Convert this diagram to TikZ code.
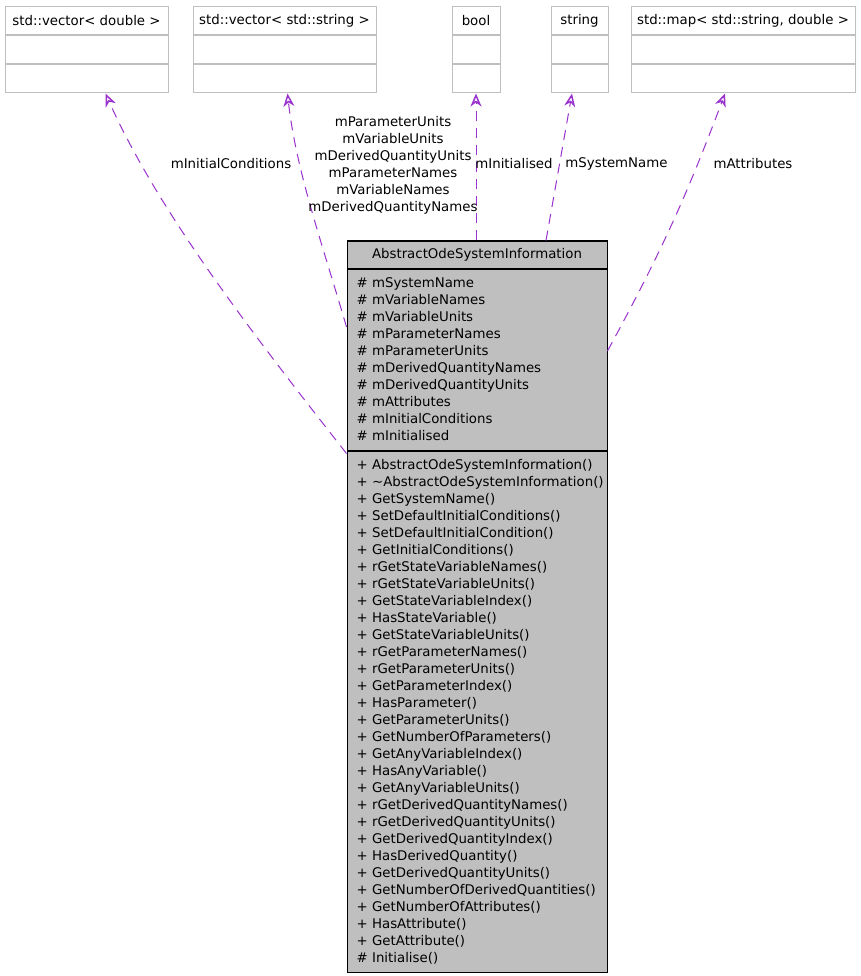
\documentclass[tikz,border=0pt]{standalone}
\usepackage{fontspec}
\setmainfont{DejaVu Sans}
\usetikzlibrary{positioning,arrows.meta}
\definecolor{edgepurple}{HTML}{9A32CD}
\definecolor{boxgray}{HTML}{BFBFBF}
\begin{document}
\begin{tikzpicture}[x=1pt, y=-1pt,
	font=\fontsize{13.33}{17}\selectfont,
	cls/.style={draw=boxgray, line width=1pt, inner sep=0pt, minimum height=28pt},
	mainpart/.style={draw=black, fill=boxgray, line width=1pt, inner sep=0pt, minimum width=260pt},
	members/.style={align=left, inner sep=0pt, anchor=west},
	uses/.style={-{Stealth[open,length=13pt,width=11pt,inset=4pt,line width=1.5pt]}, draw=edgepurple, line width=1pt, dash pattern=on 10pt off 7pt},
	lbl/.style={inner sep=0pt, align=center}]
			\useasboundingbox (0,0) rectangle (860,976);
			\node[cls, minimum width=163pt] (vecdbl) at (86.5,21) {std::vector< double >};
			\node[cls, minimum width=163pt, below=0pt of vecdbl] (vecdblattr) {};
			\node[cls, minimum width=163pt, below=0pt of vecdblattr] (vecdblops) {};
			\node[cls, minimum width=183pt] (vecstr) at (284.5,21) {std::vector< std::string >};
			\node[cls, minimum width=183pt, below=0pt of vecstr] (vecstrattr) {};
			\node[cls, minimum width=183pt, below=0pt of vecstrattr] (vecstrops) {};
			\node[cls, minimum width=48pt] (bl) at (476,21) {bool};
			\node[cls, minimum width=48pt, below=0pt of bl] (blattr) {};
			\node[cls, minimum width=48pt, below=0pt of blattr] (blops) {};
			\node[cls, minimum width=57pt] (str) at (579.5,21) {string};
			\node[cls, minimum width=57pt, below=0pt of str] (strattr) {};
			\node[cls, minimum width=57pt, below=0pt of strattr] (strops) {};
			\node[cls, minimum width=224pt] (map) at (743,21) {std::map< std::string, double >};
			\node[cls, minimum width=224pt, below=0pt of map] (mapattr) {};
			\node[cls, minimum width=224pt, below=0pt of mapattr] (mapops) {};
			\node[mainpart, minimum height=27pt] (aosi) at (477,254.5) {AbstractOdeSystemInformation};
			\node[mainpart, minimum height=181pt, below=0pt of aosi] (aosiattr) {};
			\node[mainpart, minimum height=521pt, below=0pt of aosiattr] (aosiops) {};
			\node[members] (attrlist) at ([xshift=10pt]aosiattr.west) {\# mSystemName\\\# mVariableNames\\\# mVariableUnits\\\# mParameterNames\\\# mParameterUnits\\\# mDerivedQuantityNames\\\# mDerivedQuantityUnits\\\# mAttributes\\\# mInitialConditions\\\# mInitialised};
			\node[members] (opslist) at ([xshift=10pt]aosiops.west) {+ AbstractOdeSystemInformation()\\+ \textasciitilde AbstractOdeSystemInformation()\\+ GetSystemName()\\+ SetDefaultInitialConditions()\\+ SetDefaultInitialCondition()\\+ GetInitialConditions()\\+ rGetStateVariableNames()\\+ rGetStateVariableUnits()\\+ GetStateVariableIndex()\\+ HasStateVariable()\\+ GetStateVariableUnits()\\+ rGetParameterNames()\\+ rGetParameterUnits()\\+ GetParameterIndex()\\+ HasParameter()\\+ GetParameterUnits()\\+ GetNumberOfParameters()\\+ GetAnyVariableIndex()\\+ HasAnyVariable()\\+ GetAnyVariableUnits()\\+ rGetDerivedQuantityNames()\\+ rGetDerivedQuantityUnits()\\+ GetDerivedQuantityIndex()\\+ HasDerivedQuantity()\\+ GetDerivedQuantityUnits()\\+ GetNumberOfDerivedQuantities()\\+ GetNumberOfAttributes()\\+ HasAttribute()\\+ GetAttribute()\\\# Initialise()};
			\draw[uses] ([yshift=-3pt]aosiops.north west) .. controls (251,332) and (158,211) .. ([xshift=19pt]vecdblops.south);
			\draw[uses] ([yshift=32.5pt]aosiattr.west) .. controls (323,246) and (296,171) .. ([xshift=3pt]vecstrops.south);
			\draw[uses] (aosi.north -| blops.south) -- (blops.south);
			\draw[uses] ([xshift=69pt]aosi.north) -- ([xshift=-7.5pt]strops.south);
			\draw[uses] ([yshift=8.5pt]aosiattr.east) to[bend right=4] ([xshift=-18pt]mapops.south);
			\node[lbl] (lblic) at (231,164) {mInitialConditions};
			\node[lbl] (lblnames) at (393,165.5) {mParameterUnits\\mVariableUnits\\mDerivedQuantityUnits\\mParameterNames\\mVariableNames\\mDerivedQuantityNames};
			\node[lbl] (lblinit) at (514,164) {mInitialised};
			\node[lbl] (lblsys) at (616.5,164) {mSystemName};
			\node[lbl] (lblattr) at (753,164) {mAttributes};
		\end{tikzpicture}
\end{document}
